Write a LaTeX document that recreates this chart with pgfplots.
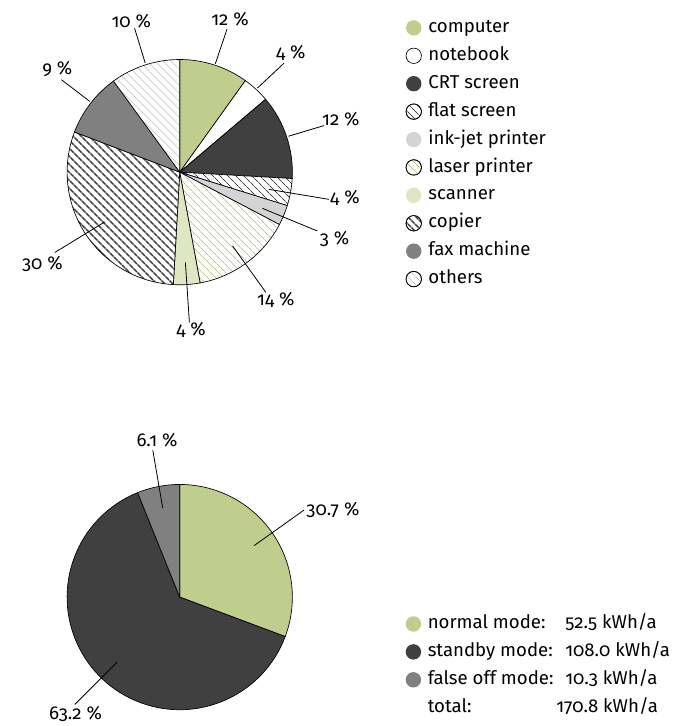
\documentclass[border=0pt]{standalone}
\usepackage{fontspec}
\setmainfont{Fira Sans}[Numbers=OldStyle]
\usepackage{pgfplots}
\usepackage{pgfplotstable}
\pgfplotsset{compat=1.18}
\usetikzlibrary{patterns.meta}

\definecolor{cgreen}{RGB}{191,205,141}
\definecolor{cdark}{RGB}{64,64,64}
\definecolor{cink}{RGB}{212,212,212}
\definecolor{cscan}{RGB}{222,230,196}
\definecolor{cfax}{RGB}{128,128,128}
\definecolor{claser}{RGB}{184,198,128}
\definecolor{cother}{RGB}{200,200,200}

\tikzset{
 sA0/.style={fill=cgreen},
 sA1/.style={fill=white},
 sA2/.style={fill=cdark},
 sA3/.style={preaction={fill=white}, pattern={Lines[angle=-45,distance=4pt,line width=0.7pt]}, pattern color=black!75},
 sA4/.style={fill=cink},
 sA5/.style={preaction={fill=white}, pattern={Lines[angle=-45,distance=4pt,line width=0.7pt]}, pattern color=claser},
 sA6/.style={fill=cscan},
 sA7/.style={preaction={fill=white}, pattern={Lines[angle=-45,distance=4pt,line width=1.2pt]}, pattern color=black!75},
 sA8/.style={fill=cfax},
 sA9/.style={preaction={fill=white}, pattern={Lines[angle=-45,distance=4pt,line width=0.7pt]}, pattern color=cother},
 sB0/.style={fill=cgreen},
 sB1/.style={fill=cdark},
 sB2/.style={fill=cfax},
}

% shares of the slices (percent, clockwise from 12 o'clock)
\pgfplotstableread{
name share
computer 9.9
notebook 3.9
CRT 12.1
flat 3.9
inkjet 2.9
laser 14.4
scanner 3.8
copier 29.9
fax 9.2
others 10.0
}\tabA
\pgfplotstableread{
name share
normal 30.7
standby 63.2
falseoff 6.1
}\tabB

\newcommand\pieangles[2]{%
  \pgfplotstablegetrowsof{#1}%
  \pgfmathtruncatemacro\pielast{\pgfplotsretval-1}%
  \gdef\piecum{0}%
  \foreach \i in {0,...,\pielast}{%
    \pgfplotstablegetelem{\i}{share}\of#1%
    \pgfmathsetmacro\pienext{\piecum+3.6*\pgfplotsretval}%
    \pgfmathsetmacro\piea{90-\piecum}%
    \pgfmathsetmacro\pieb{90-\pienext}%
    \expandafter\xdef\csname #2s\i\endcsname{\piea}%
    \expandafter\xdef\csname #2e\i\endcsname{\pieb}%
    \xdef\piecum{\pienext}%
  }%
}

\pgfplotsset{
  pieaxis/.style={
    at={(0pt,0pt)}, anchor=south west,
    scale only axis, width=521.25pt, height=544.5pt,
    xmin=0, xmax=695, ymin=0, ymax=726, y dir=reverse,
    hide axis, clip=false,
    legend cell align=left,
    legend image code/.code={\path[##1] (0pt,0pt) circle[radius=5.8pt];},
    legend style={draw=none, fill=none, inner sep=0pt, outer sep=0pt,
      row sep=8pt, column sep=5pt,
      font=\fontsize{14}{17}\selectfont,
      nodes={inner xsep=0pt, inner ysep=0pt, text height=10pt, text depth=3pt}},
  },
  leader/.style={black, line width=0.6pt, forget plot},
}

\begin{document}
\begin{tikzpicture}[font=\fontsize{14}{17}\selectfont]
\pieangles{\tabA}{A}
\pieangles{\tabB}{B}

% ---------------- top pie ----------------
\begin{axis}[pieaxis, legend style={at={(axis cs:407,19.3)}, anchor=north west}]
\path (axis cs:0,0) rectangle (axis cs:695,726);
\pgfplotsinvokeforeach{0,...,9}{%
  \path[sA#1, draw=black, line width=0.5pt] (axis cs:180.3,172.7) -- ++({\csname As#1\endcsname}:84.75pt)
    arc[start angle={\csname As#1\endcsname}, end angle={\csname Ae#1\endcsname}, radius=84.75pt] -- cycle;
}
\addplot[leader] coordinates {(145.7,63.3) (135,28.3)};
\addplot[leader] coordinates {(216,64) (227.7,29.3)};
\addplot[leader] coordinates {(258.3,88.3) (285,63.3)};
\addplot[leader] coordinates {(289.3,136.7) (325,126)};
\addplot[leader] coordinates {(270,190) (330,200)};
\addplot[leader] coordinates {(263.3,209) (318.3,231.7)};
\addplot[leader] coordinates {(233.3,246.7) (266.7,293.3)};
\addplot[leader] coordinates {(186,263.3) (190,323.3)};
\addplot[leader] coordinates {(105,222.7) (55,253.3)};
\addplot[leader] coordinates {(90,101.7) (61.7,80)};
\node[anchor=base] at (axis cs:131.7,27.5) {10 \%};
\node[anchor=base] at (axis cs:230.7,26) {12 \%};
\node[anchor=base] at (axis cs:291.7,58.5) {4 \%};
\node[anchor=base] at (axis cs:342,126) {12 \%};
\node[anchor=base] at (axis cs:346,204) {4 \%};
\node[anchor=base] at (axis cs:335.7,245) {3 \%};
\node[anchor=base] at (axis cs:276.7,306.7) {14 \%};
\node[anchor=base] at (axis cs:191.7,336.7) {4 \%};
\node[anchor=base] at (axis cs:42.5,270) {30 \%};
\node[anchor=base] at (axis cs:57.5,75) {9 \%};
\addlegendimage{sA0, draw=none}\addlegendentry{computer}
\addlegendimage{sA1, draw=black, line width=0.5pt}\addlegendentry{notebook}
\addlegendimage{sA2, draw=none}\addlegendentry{CRT screen}
\addlegendimage{sA3, draw=black, line width=0.5pt}\addlegendentry{flat screen}
\addlegendimage{sA4, draw=none}\addlegendentry{ink-jet printer}
\addlegendimage{sA5, draw=black, line width=0.5pt}\addlegendentry{laser printer}
\addlegendimage{sA6, draw=none}\addlegendentry{scanner}
\addlegendimage{sA7, draw=black, line width=0.5pt}\addlegendentry{copier}
\addlegendimage{sA8, draw=none}\addlegendentry{fax machine}
\addlegendimage{sA9, draw=black, line width=0.5pt}\addlegendentry{others}
\end{axis}

% ---------------- bottom pie ----------------
\begin{axis}[pieaxis, legend style={at={(axis cs:407,617.3)}, anchor=north west}]
\pgfplotsinvokeforeach{0,...,2}{%
  \path[sB#1, draw=black, line width=0.5pt] (axis cs:180.3,599) -- ++({\csname Bs#1\endcsname}:84.75pt)
    arc[start angle={\csname Bs#1\endcsname}, end angle={\csname Be#1\endcsname}, radius=84.75pt] -- cycle;
}
\addplot[leader] coordinates {(163.3,510) (153.3,451.7)};
\addplot[leader] coordinates {(255,547.3) (305,511.7)};
\addplot[leader] coordinates {(117.7,664) (75,706.7)};
\node[anchor=base] at (axis cs:157.5,448.3) {6.1 \%};
\node[anchor=base] at (axis cs:334,516.7) {30.7 \%};
\node[anchor=base] at (axis cs:75.8,721.7) {63.2 \%};
\addlegendimage{sB0, draw=none}\addlegendentry{\makebox[103.5pt][l]{normal mode:}52.5 kWh/a}
\addlegendimage{sB1, draw=none}\addlegendentry{\makebox[103.5pt][l]{standby mode:}108.0 kWh/a}
\addlegendimage{sB2, draw=none}\addlegendentry{\makebox[103.5pt][l]{false off mode:}10.3 kWh/a}
\addlegendimage{empty legend}\addlegendentry{\makebox[96.75pt][l]{total:}170.8 kWh/a}
\end{axis}
\end{tikzpicture}
\end{document}
